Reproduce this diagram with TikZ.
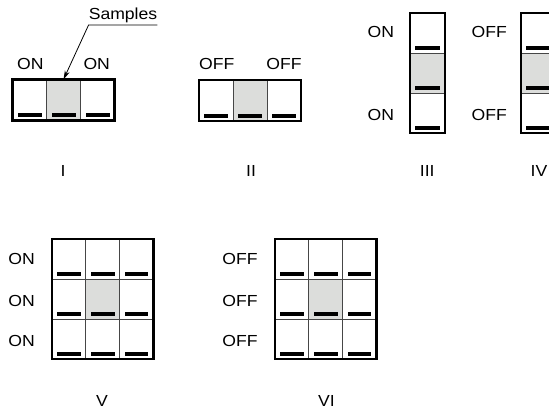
\documentclass[tikz,border=0pt]{standalone}
\usepackage{fontspec}
\setmainfont[FakeStretch=1.1]{Liberation Sans}
\usetikzlibrary{arrows.meta}
\definecolor{shade}{RGB}{220,221,219}
\definecolor{divider}{RGB}{70,70,70}
\tikzset{
  cell/.style={draw=divider, line width=1pt, inner sep=0pt, outer sep=0pt},
  frame/.style={draw=black, line width=2.2pt},
  bar/.style={fill=black},
  txt/.style={font=\fontsize{16}{19}\selectfont, inner sep=0pt, anchor=base},
  leader/.style={line width=0.8pt}
}
% #1 name, #2 left, #3 top, #4 cols, #5 rows, #6 cell w, #7 cell h, #8 shaded col, #9 shaded row
\newcommand\dipbox[9]{%
  \foreach \c in {1,...,#4}{\foreach \r in {1,...,#5}{%
    \pgfmathsetmacro\cx{#2+(\c-0.5)*#6}%
    \pgfmathsetmacro\cy{#3+(\r-0.5)*#7}%
    \def\fillc{white}%
    \ifnum\c=#8 \ifnum\r=#9 \def\fillc{shade}\fi\fi
    \node[cell, fill=\fillc, minimum width=#6pt, minimum height=#7pt] (#1-\c-\r) at (\cx,\cy) {};
    \fill[bar] ([shift={(5pt,3.5pt)}]#1-\c-\r.south west) rectangle ([shift={(-5pt,7.5pt)}]#1-\c-\r.south east);
  }}%
  \draw[frame] (#1-1-1.north west) rectangle (#1-#4-#5.south east);
}
\begin{document}
\begin{tikzpicture}[x=1pt,y=-1pt]
\useasboundingbox (0,0) rectangle (549,412);
\clip (0,0) rectangle (549,412);

% Box I
\dipbox{bI}{12.5}{79.5}{3}{1}{34}{41}{2}{1}
\node[txt] (onIa) at (30.3,70) {ON};
\node[txt] (onIb) at (96.7,70) {ON};
\node[txt] (numI) at (63,176) {I};

% Samples leader
\node[txt, inner ysep=2.2pt] (samples) at (123,19.3) {Samples};
\draw[leader, -{Stealth[length=9pt,width=5pt]}] (samples.south east) -- (samples.south west) -- (bI-2-1.north);

% Box II
\dipbox{bII}{199}{80}{3}{1}{34}{41}{2}{1}
\node[txt] (offIIa) at (216.7,69.5) {OFF};
\node[txt] (offIIb) at (284,69.5) {OFF};
\node[txt] (numII) at (251,176) {II};

% Box III
\dipbox{bIII}{410}{13.3}{1}{3}{35}{40}{1}{2}
\node[txt] (onIIIa) at (380.8,37.7) {ON};
\node[txt] (onIIIb) at (380.8,120.7) {ON};
\node[txt] (numIII) at (427.2,176) {III};

% Box IV
\dipbox{bIV}{521}{13.3}{1}{3}{35}{40}{1}{2}
\node[txt] (offIVa) at (489.2,37.7) {OFF};
\node[txt] (offIVb) at (489.2,120.7) {OFF};
\node[txt] (numIV) at (539,176) {IV};

% Box V
\dipbox{bV}{52}{239.3}{3}{3}{33.8}{40}{2}{2}
\node[txt] (onVa) at (21.7,264.3) {ON};
\node[txt] (onVb) at (21.7,306) {ON};
\node[txt] (onVc) at (21.7,346.7) {ON};
\node[txt] (numV) at (102,406) {V};

% Box VI
\dipbox{bVI}{275}{239.3}{3}{3}{33.8}{40}{2}{2}
\node[txt] (offVIa) at (240,264.3) {OFF};
\node[txt] (offVIb) at (240,306) {OFF};
\node[txt] (offVIc) at (240,346.7) {OFF};
\node[txt] (numVI) at (326.5,406) {VI};
\end{tikzpicture}
\end{document}
